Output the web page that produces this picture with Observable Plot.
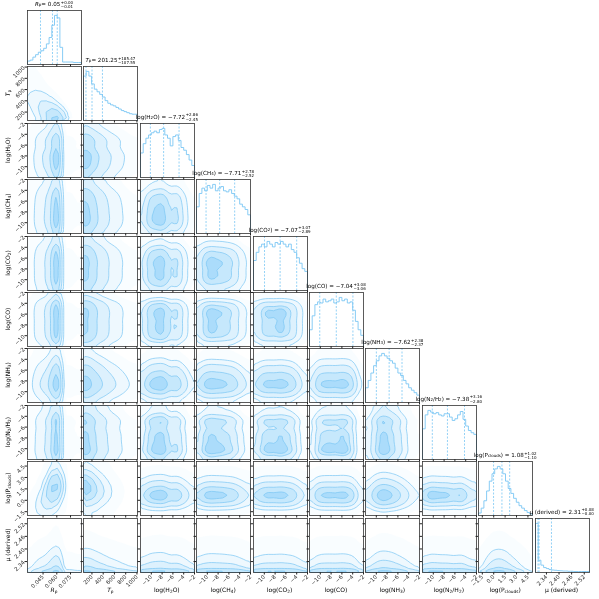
<!DOCTYPE html>
<html><head><meta charset="utf-8">
<script src="https://cdn.jsdelivr.net/npm/d3@7"></script>
<script src="https://cdn.jsdelivr.net/npm/@observablehq/plot@0.6"></script>
<style>
body{margin:0;background:#fff;}
#fig{position:relative;width:599px;height:599px;overflow:hidden;font-family:"DejaVu Sans",sans-serif;color:#000;will-change:transform;}
.panel{position:absolute;}
.panel svg{overflow:visible !important;}
.ttl{position:absolute;font-size:5.6px;white-space:nowrap;transform:translateX(-50%);line-height:1;display:flex;align-items:center;}
.ss{display:inline-flex;flex-direction:column;font-size:0.72em;line-height:1.05;margin-left:0.5px;}
.xl{position:absolute;font-size:6px;white-space:nowrap;transform:translateX(-50%);line-height:1;}
.yl{position:absolute;font-size:6px;white-space:nowrap;transform:translate(-50%,-50%) rotate(-90deg);line-height:1;}
sub{font-size:0.72em;vertical-align:-0.25em;line-height:0;}
</style></head><body><div id="fig"></div>
<script>
// ---------- data ----------
const axisLabels = ["<i>R</i><sub>p</sub>", "<i>T</i><sub>p</sub>", "log(H<sub>2</sub>O)", "log(CH<sub>4</sub>)", "log(CO<sub>2</sub>)", "log(CO)", "log(NH<sub>3</sub>)", "log(N<sub>2</sub>/H<sub>2</sub>)", "log(P<sub>clouds</sub>)", "μ (derived)"];
const titleMain = ["<i>R</i><sub>p</sub> = 0.05", "<i>T</i><sub>p</sub> = 201.25", "log(H<sub>2</sub>O) = −7.72", "log(CH<sub>4</sub>) = −7.71", "log(CO<sub>2</sub>) = −7.07", "log(CO) = −7.04", "log(NH<sub>3</sub>) = −7.62", "log(N<sub>2</sub>/H<sub>2</sub>) = −7.38", "log(P<sub>clouds</sub>) = 1.08", "μ (derived) = 2.31"];
const titleUp = ["+0.00", "+185.47", "+2.86", "+2.78", "+3.07", "+3.08", "+2.38", "+3.16", "+1.02", "+0.08"];
const titleDown = ["−0.01", "−107.55", "−2.45", "−2.52", "−2.89", "−3.06", "−2.37", "−2.80", "−1.10", "−0.00"];

const domRp = [0.028, 0.087], domTp = [50, 1010], domAb = [-12, -2], domPcl = [-2.0, 5.1], domMu = [2.288, 2.545];
const domains = [domRp, domTp, domAb, domAb, domAb, domAb, domAb, domAb, domPcl, domMu];

const ticksRp = [0.045, 0.060, 0.075];
const ticksTp = [200, 400, 600, 800, 1000];
const ticksAb = [-10, -8, -6, -4, -2];
const ticksPcl = [-1.5, 0.0, 1.5, 3.0, 4.5];
const ticksMu = [2.34, 2.40, 2.46, 2.52];
const ticks = [ticksRp, ticksTp, ticksAb, ticksAb, ticksAb, ticksAb, ticksAb, ticksAb, ticksPcl, ticksMu];

// marginal histograms (relative heights, equal bins across each domain)
const histRp  = [0.07,0.09,0.15,0.2,0.25,0.28,0.33,0.42,0.55,0.8,1.0,0.95,0.35,0.05,0.05,0.05,0.05,0.04,0.04,0.04];
const histTp  = [0.85,0.94,0.85,0.7,0.6,0.55,0.5,0.45,0.38,0.33,0.3,0.28,0.25,0.22,0.19,0.17,0.15,0.13,0.12,0.12];
const histH2O = [0.45,0.62,0.72,0.78,0.82,0.85,0.82,0.88,0.9,0.78,0.72,0.58,0.75,0.78,0.68,0.55,0.5,0.42,0.32,0.22];
const histCH4 = [0.5,0.75,0.85,0.8,0.9,0.85,0.92,0.8,0.85,0.88,0.8,0.78,0.82,0.75,0.7,0.65,0.55,0.5,0.45,0.35];
const histCO2 = [0.55,0.7,0.8,0.85,0.8,0.9,0.85,0.8,0.88,0.85,0.9,0.85,0.8,0.85,0.75,0.7,0.6,0.5,0.4,0.35];
const histCO  = [0.3,0.55,0.75,0.8,0.78,0.85,0.8,0.82,0.85,0.78,0.8,0.88,0.82,0.85,0.78,0.8,0.65,0.45,0.3,0.2];
const histNH3 = [0.3,0.45,0.6,0.75,0.85,0.95,1.0,0.95,0.9,0.85,0.8,0.7,0.6,0.55,0.45,0.38,0.3,0.25,0.2,0.15];
const histN2H2= [0.55,0.8,0.88,0.85,0.82,0.84,0.8,0.78,0.82,0.82,0.76,0.7,0.73,0.8,0.86,0.72,0.6,0.52,0.48,0.45];
const histPcl = [0.05,0.15,0.3,0.5,0.7,0.85,0.95,1.0,0.95,0.85,0.7,0.55,0.45,0.35,0.27,0.2,0.15,0.1,0.06,0.03];
const histMu  = [1.0,0.25,0.15,0.1,0.08,0.06,0.05,0.045,0.04,0.035,0.03,0.03,0.025,0.025,0.02,0.02,0.02,0.02,0.02,0.02];
const hists = [histRp, histTp, histH2O, histCH4, histCO2, histCO, histNH3, histN2H2, histPcl, histMu];
// μ density profile as seen in its joint panels (bottom row)
const muJointProfile = [1.0,0.45,0.3,0.22,0.17,0.13,0.1,0.08,0.06,0.04,0.03,0.02,0.015,0.01,0.008,0.006,0.005,0.004,0.004,0.004];

// 16th / 50th / 84th percentiles (dashed lines)
const q16 = [0.0422, 94, -10.17, -10.23, -9.96, -10.10, -9.99, -10.18, -0.02, 2.300];
const q50 = [0.0553, 201.25, -7.72, -7.71, -7.07, -7.04, -7.62, -7.38, 1.08, 2.305];
const q84 = [0.0605, 386.7, -4.86, -4.93, -4.00, -3.96, -5.24, -4.22, 2.10, 2.364];

// correlated joint densities (rows: y bins from low to high; cols: x bins)
const jointRpTp = [
 [0.02,0.05,0.12,0.3,0.6,1.0,0.4,0.02,0,0],
 [0.03,0.08,0.2,0.4,0.6,0.55,0.15,0.01,0,0],
 [0.05,0.12,0.25,0.35,0.3,0.15,0.03,0,0,0],
 [0.07,0.14,0.2,0.18,0.12,0.05,0.01,0,0,0],
 [0.07,0.12,0.12,0.08,0.05,0.02,0,0,0,0],
 [0.06,0.08,0.07,0.04,0.02,0.01,0,0,0,0],
 [0.05,0.05,0.04,0.02,0.01,0,0,0,0,0],
 [0.04,0.04,0.03,0.01,0,0,0,0,0,0],
 [0.03,0.03,0.02,0.01,0,0,0,0,0,0],
 [0.02,0.02,0.01,0,0,0,0,0,0,0]];
const jointRpPcl = [
 [0.05,0.1,0.15,0.15,0.12,0.1,0.02,0,0,0],
 [0.05,0.15,0.25,0.3,0.25,0.2,0.04,0,0,0],
 [0.03,0.12,0.25,0.4,0.45,0.35,0.06,0,0,0],
 [0.02,0.08,0.2,0.4,0.6,0.55,0.08,0,0,0],
 [0.01,0.04,0.12,0.35,0.75,0.9,0.1,0,0,0],
 [0,0.02,0.08,0.25,0.7,1.0,0.12,0,0,0],
 [0,0.01,0.04,0.15,0.55,0.85,0.1,0,0,0],
 [0,0,0.02,0.08,0.35,0.6,0.08,0,0,0],
 [0,0,0.01,0.04,0.2,0.4,0.05,0,0,0],
 [0,0,0,0.02,0.1,0.2,0.03,0,0,0]];
const jointTpPcl = [
 [0.1,0.1,0.08,0.05,0.03,0.02,0.01,0,0,0],
 [0.25,0.22,0.15,0.1,0.06,0.03,0.02,0.01,0,0],
 [0.45,0.4,0.3,0.2,0.12,0.07,0.03,0.01,0,0],
 [0.7,0.6,0.45,0.3,0.18,0.1,0.05,0.02,0.01,0],
 [0.9,0.75,0.5,0.33,0.2,0.1,0.05,0.02,0.01,0],
 [1.0,0.7,0.45,0.3,0.18,0.09,0.04,0.02,0.01,0],
 [0.8,0.55,0.35,0.22,0.12,0.06,0.03,0.01,0,0],
 [0.55,0.35,0.22,0.13,0.07,0.03,0.01,0,0,0],
 [0.3,0.2,0.12,0.07,0.04,0.02,0.01,0,0,0],
 [0.12,0.08,0.05,0.03,0.02,0.01,0,0,0,0]];
const joints = {"0,1": jointRpTp, "0,8": jointRpPcl, "1,8": jointTpPcl};

// ---------- drawing ----------
const N = 10, X0 = 27, Y0 = 10, PITCH = 56.4, SIZE = 54;
const BLUE = "#87cefa", LINE = "#7ac6f4", FRAME = "#333";
const minus = s => s.replace(/-/g, "−");
const fmts = [d3.format(".3f"), d3.format("d"), ...Array(6).fill(d3.format("d")), d3.format(".1f"), d3.format(".2f")].map(f => v => minus(f(v)));
const massFracs = [0.985, 0.865, 0.675, 0.393, 0.118];
const layerFill = [0.05, 0.1, 0.17, 0.27, 0.42];

// separable [1,2,1] smoothing, px passes along x and py passes along y
function blur(v, nx, ny, px, py) {
  let a = Float64Array.from(v);
  const pass = (dx, dy) => {
    const b = new Float64Array(a.length);
    for (let r = 0; r < ny; r++) for (let c = 0; c < nx; c++) {
      let s = 2 * a[r * nx + c], w = 2;
      for (const d of [-1, 1]) {
        const rr = r + d * dy, cc = c + d * dx;
        if (rr < 0 || rr >= ny || cc < 0 || cc >= nx) continue;
        s += a[rr * nx + cc]; w += 1;
      }
      b[r * nx + c] = s / w;
    }
    a = b;
  };
  for (let p = 0; p < px; p++) pass(1, 0);
  for (let p = 0; p < py; p++) pass(0, 1);
  return a;
}
function levels(v) {
  const s = Array.from(v).sort((a, b) => b - a);
  const tot = d3.sum(s), cum = d3.cumsum(s);
  return massFracs.map(f => { const k = cum.findIndex(c => c >= f * tot); return s[Math.max(0, k)]; });
}
function gridFor(i, j) {
  const key = i + "," + j;
  if (joints[key]) {
    const g = joints[key], ny = g.length, nx = g[0].length;
    return {nx, ny, v: blur(g.flat(), nx, ny, 1, 1)};
  }
  const hx = hists[i], hy = j === N - 1 ? muJointProfile : hists[j], nx = hx.length, ny = hy.length;
  const v = new Float64Array(nx * ny);
  for (let r = 0; r < ny; r++) for (let c = 0; c < nx; c++) v[r * nx + c] = hy[r] * hx[c];
  return {nx, ny, v: blur(v, nx, ny, i === 0 ? 1 : 3, j === N - 1 ? 0 : 3)};
}
function histPoints(h, dom) {
  const n = h.length, w = (dom[1] - dom[0]) / n;
  const pts = [{x: dom[0], y: 0}];
  h.forEach((v, k) => pts.push({x: dom[0] + k * w, y: v}));
  pts.push({x: dom[1], y: h[n - 1]}, {x: dom[1], y: 0});
  return pts;
}
function axisMarks(i, j, diag) {
  const m = [];
  const showX = j === N - 1;
  m.push(Plot.axisX(ticks[i], {tickSize: 2.5, tickPadding: 1, tickRotate: showX ? -45 : 0,
    tickFormat: showX ? fmts[i] : () => "", fontSize: 5.5, label: null}));
  if (!diag) {
    const showY = i === 0;
    m.push(Plot.axisY(ticks[j], {tickSize: 2.5, tickPadding: 1, tickRotate: showY ? -45 : 0,
      tickFormat: showY ? fmts[j] : () => "", fontSize: 5.5, label: null}));
  }
  return m;
}
const fig = document.getElementById("fig");
function place(el, i, j) {
  el.className = "panel";
  el.style.left = (X0 + i * PITCH) + "px";
  el.style.top = (Y0 + j * PITCH) + "px";
  fig.appendChild(el);
}
const baseStyle = {background: "transparent", overflow: "visible", color: "#222", fontFamily: "DejaVu Sans, sans-serif", fontSize: "5.5px"};

for (let j = 0; j < N; j++) {
  for (let i = 0; i <= j; i++) {
    let plot;
    if (i === j) {
      const h = hists[i];
      plot = Plot.plot({
        width: SIZE, height: SIZE, margin: 0, style: baseStyle,
        x: {domain: domains[i]}, y: {domain: [0, d3.max(h) * 1.1], axis: null},
        marks: [
          Plot.line(histPoints(h, domains[i]), {x: "x", y: "y", curve: "step-after", stroke: LINE, strokeWidth: 0.9}),
          Plot.ruleX([q16[i], q50[i], q84[i]], {stroke: LINE, strokeWidth: 0.8, strokeDasharray: "2,1.5"}),
          ...axisMarks(i, j, true),
          Plot.frame({stroke: FRAME, strokeWidth: 0.8})
        ]
      });
    } else {
      const g = gridFor(i, j), lv = levels(g.v);
      const dx = domains[i], dy = domains[j];
      const cmarks = lv.map((t, k) => Plot.contour(g.v, {
        width: g.nx, height: g.ny, x1: dx[0], x2: dx[1], y1: dy[0], y2: dy[1],
        thresholds: [t], fill: BLUE, fillOpacity: layerFill[k],
        stroke: k === 0 ? "none" : LINE, strokeWidth: 0.7
      }));
      plot = Plot.plot({
        width: SIZE, height: SIZE, margin: 0, style: baseStyle,
        x: {domain: dx}, y: {domain: dy},
        marks: [...cmarks, ...axisMarks(i, j, false), Plot.frame({stroke: FRAME, strokeWidth: 0.8})]
      });
    }
    const wrap = document.createElement("div");
    wrap.appendChild(plot);
    place(wrap, i, j);
  }
}
// titles above diagonal panels
for (let i = 0; i < N; i++) {
  const t = document.createElement("div");
  t.className = "ttl";
  t.style.left = (X0 + i * PITCH + SIZE / 2) + "px";
  t.style.top = (Y0 + i * PITCH - 9.5) + "px";
  t.innerHTML = titleMain[i] + `<span class="ss"><span>${titleUp[i]}</span><span>${titleDown[i]}</span></span>`;
  fig.appendChild(t);
}
// x axis labels (bottom row) and y axis labels (left column)
for (let i = 0; i < N; i++) {
  const t = document.createElement("div");
  t.className = "xl";
  t.style.left = (X0 + i * PITCH + SIZE / 2) + "px";
  t.style.top = "587px";
  t.innerHTML = axisLabels[i];
  fig.appendChild(t);
}
for (let j = 1; j < N; j++) {
  const t = document.createElement("div");
  t.className = "yl";
  t.style.left = "8px";
  t.style.top = (Y0 + j * PITCH + SIZE / 2) + "px";
  t.innerHTML = axisLabels[j];
  fig.appendChild(t);
}
</script>
</body></html>
